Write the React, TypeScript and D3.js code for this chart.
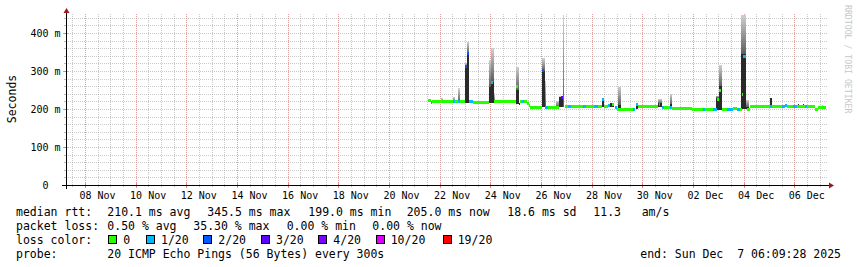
import React from "react";
import * as d3 from "d3";

// ---------- data ----------
const START = "2025-11-07 06:09:28";
const END = "2025-12-07 06:09:28";

const yTickValues = [0, 100, 200, 300, 400];
const yTickLabels = ["0", "100 m", "200 m", "300 m", "400 m"];

const xLabelDates = [
  "11-08", "11-10", "11-12", "11-14", "11-16", "11-18", "11-20", "11-22",
  "11-24", "11-26", "11-28", "11-30", "12-02", "12-04", "12-06",
];
const xTickLabels = [
  "08 Nov", "10 Nov", "12 Nov", "14 Nov", "16 Nov", "18 Nov", "20 Nov", "22 Nov",
  "24 Nov", "26 Nov", "28 Nov", "30 Nov", "02 Dec", "04 Dec", "06 Dec",
];

const lossLabels = ["0", "1/20", "2/20", "3/20", "4/20", "10/20", "19/20"];
const lossColors = ["#26ff00", "#00b8ff", "#0059ff", "#5e00ff", "#7e00ff", "#dd00ff", "#ff0000"];

// median rtt runs: [start, end, ms, loss class index]
const medianRuns: [string, string, number, number][] = [
  ["11-21 13:06", "11-21 16:00", 222.5, 0],
  ["11-21 16:00", "11-21 17:00", 218, 1],
  ["11-21 17:00", "11-22 13:05", 219, 0],
  ["11-22 13:05", "11-22 15:00", 219, 1],
  ["11-22 15:00", "11-22 17:30", 219, 0],
  ["11-22 17:30", "11-22 19:30", 219, 1],
  ["11-22 19:30", "11-23 00:10", 219, 0],
  ["11-23 00:10", "11-23 02:20", 311, 2],
  ["11-23 02:30", "11-23 04:15", 346, 2],
  ["11-23 04:15", "11-23 07:45", 219, 1],
  ["11-23 07:45", "11-23 23:20", 218, 0],
  ["11-24 00:50", "11-24 02:25", 269, 1],
  ["11-24 03:40", "11-25 00:30", 219, 0],
  ["11-25 00:45", "11-25 02:20", 260, 0],
  ["11-25 04:15", "11-25 05:50", 219, 0],
  ["11-25 05:50", "11-25 08:05", 219, 1],
  ["11-25 08:05", "11-25 11:10", 219, 0],
  ["11-25 11:10", "11-25 12:20", 214, 0],
  ["11-25 12:20", "11-25 13:45", 209, 0],
  ["11-25 13:45", "11-26 00:40", 204.5, 0],
  ["11-26 00:50", "11-26 02:35", 302, 2],
  ["11-26 03:55", "11-26 06:50", 204.5, 1],
  ["11-26 06:50", "11-26 17:40", 204.5, 0],
  ["11-26 18:40", "11-26 21:00", 231, 3],
  ["11-26 22:55", "11-27 02:00", 206.5, 0],
  ["11-27 02:00", "11-27 04:35", 206.5, 1],
  ["11-27 04:35", "11-27 16:00", 206.5, 0],
  ["11-27 16:00", "11-27 18:50", 206.5, 1],
  ["11-27 18:50", "11-28 02:40", 206, 0],
  ["11-28 02:40", "11-28 05:55", 206, 1],
  ["11-28 05:55", "11-28 09:40", 206, 0],
  ["11-28 09:40", "11-28 12:10", 225, 1],
  ["11-28 12:10", "11-28 15:20", 206, 0],
  ["11-28 15:20", "11-28 17:30", 208.5, 1],
  ["11-28 19:40", "11-28 21:35", 212, 0],
  ["11-28 22:15", "11-28 23:55", 204, 1],
  ["11-29 00:00", "11-29 15:35", 200, 0],
  ["11-29 15:35", "11-29 17:10", 200, 1],
  ["11-29 18:35", "11-29 20:20", 211, 1],
  ["11-29 20:20", "11-30 15:20", 206, 0],
  ["11-30 15:30", "11-30 17:20", 212, 1],
  ["11-30 18:30", "11-30 20:40", 203.5, 1],
  ["11-30 20:40", "12-01 02:20", 203.5, 0],
  ["12-01 02:20", "12-01 03:50", 203.5, 1],
  ["12-01 04:15", "12-01 23:15", 201.5, 0],
  ["12-01 23:15", "12-02 09:55", 200, 0],
  ["12-02 09:55", "12-02 11:30", 200, 1],
  ["12-02 11:30", "12-02 19:25", 200, 0],
  ["12-02 19:25", "12-02 22:35", 197.5, 1],
  ["12-02 22:35", "12-03 00:45", 224, 0],
  ["12-03 01:05", "12-03 02:15", 250, 0],
  ["12-03 03:20", "12-03 08:05", 200, 0],
  ["12-03 08:05", "12-03 14:00", 198.5, 1],
  ["12-03 14:00", "12-03 17:35", 201.5, 0],
  ["12-03 17:35", "12-03 20:40", 198.5, 1],
  ["12-03 20:40", "12-03 22:20", 200, 0],
  ["12-03 22:20", "12-03 23:30", 237, 0],
  ["12-03 23:30", "12-04 01:55", 339, 1],
  ["12-04 03:00", "12-04 06:10", 199, 0],
  ["12-04 06:10", "12-05 01:05", 206, 0],
  ["12-05 01:05", "12-05 02:45", 206, 1],
  ["12-05 02:45", "12-05 12:10", 206, 0],
  ["12-05 12:10", "12-05 15:20", 206, 1],
  ["12-05 15:20", "12-05 16:55", 210.5, 1],
  ["12-05 16:55", "12-05 23:10", 206, 0],
  ["12-05 23:10", "12-06 02:25", 206, 1],
  ["12-06 02:25", "12-06 10:15", 206, 0],
  ["12-06 10:15", "12-06 12:30", 206, 1],
  ["12-06 12:30", "12-06 19:45", 206, 0],
  ["12-06 19:45", "12-06 22:50", 200, 0],
  ["12-06 22:50", "12-07 06:10", 204.5, 0],
];

// smoke (ping spread): [start, end, low ms, dense top ms, max ms]
const smoke: [string, string, number, number, number][] = [
  ["11-22 01:30", "11-22 03:00", 218, 218, 228],
  ["11-22 13:05", "11-22 15:00", 218, 218, 231],
  ["11-22 17:30", "11-22 19:30", 218, 220, 254],
  ["11-23 00:00", "11-23 02:20", 217, 311, 322],
  ["11-23 02:20", "11-23 04:20", 217, 346, 377],
  ["11-23 23:15", "11-24 00:50", 217, 259, 330],
  ["11-24 00:50", "11-24 03:40", 217, 272, 360],
  ["11-24 03:40", "11-24 05:00", 217, 219, 241],
  ["11-25 00:25", "11-25 03:00", 213, 250, 311],
  ["11-25 03:00", "11-25 04:15", 211, 216, 216],
  ["11-26 00:40", "11-26 03:55", 204, 300, 333],
  ["11-26 03:55", "11-26 05:00", 204, 206, 275],
  ["11-26 14:50", "11-26 16:45", 204, 205, 222],
  ["11-26 17:40", "11-26 21:00", 204, 231, 233],
  ["11-26 21:00", "11-26 22:25", 205, 206, 447],
  ["11-28 09:30", "11-28 12:10", 205, 225, 227],
  ["11-28 17:30", "11-28 21:35", 205, 215, 216],
  ["11-29 00:50", "11-29 04:00", 199, 210, 259],
  ["11-29 18:35", "11-29 20:20", 199, 213, 213],
  ["11-30 15:15", "11-30 18:30", 205, 215, 226],
  ["12-01 02:40", "12-01 04:15", 202, 212, 239],
  ["12-02 22:25", "12-03 01:05", 198, 230, 235],
  ["12-03 01:05", "12-03 03:20", 198, 260, 316],
  ["12-03 22:05", "12-04 02:50", 199, 345, 447],
  ["12-04 02:50", "12-04 04:45", 199, 205, 224],
  ["12-05 01:05", "12-05 02:45", 205, 228, 228],
  ["12-05 15:20", "12-05 16:55", 205, 214, 214],
  ["12-06 03:40", "12-06 04:35", 205, 213, 213],
  ["12-06 07:55", "12-06 08:50", 205, 213, 213],
  ["12-07 01:55", "12-07 02:50", 204, 206, 210],
];

const legendRtt: [string, number][] = [
  ["median rtt:", 16], ["210.1 ms avg", 107.3], ["345.5 ms max", 207.3],
  ["199.0 ms min", 308.3], ["205.0 ms now", 406.7], ["18.6 ms sd", 507.3],
  ["11.3", 593.3], ["am/s", 641.7],
];
const legendLoss: [string, number][] = [
  ["packet loss:", 16], ["0.50 % avg", 107.3], ["35.30 % max", 193.3],
  ["0.00 % min", 286.7], ["0.00 % now", 372.3],
];
const probeText = "20 ICMP Echo Pings (56 Bytes) every 300s";
const endText = "end: Sun Dec\u00a0\u00a07 06:09:28 2025";

// ---------- layout ----------
const W = 857, H = 267;
const X0 = 66, X1 = 826, YB = 185, YT = 14;
const lossBoxX = [108.3, 146, 203.3, 261, 318.3, 375.7, 442.7];

const pFull = d3.utcParse("%Y-%m-%d %H:%M:%S");
const pShort = d3.utcParse("%Y-%m-%d %H:%M");
const T = (s: string) => pShort("2025-" + s)!;
const D = (s: string) => d3.utcParse("%Y-%m-%d")("2025-" + s)!;

const MONO = "'DejaVu Sans Mono', monospace";

export default function App() {
  const x = d3.scaleUtc().domain([pFull(START)!, pFull(END)!]).range([X0, X1]);
  const y = d3.scaleLinear().domain([0, 450]).range([YB, YT]);
  const px = (v: number) => Math.round(v) + 0.5;

  const minorX = d3.utcHour.every(12)!.range(x.domain()[0], x.domain()[1]);
  const majorX = xLabelDates.map(D);
  const minorY = d3.range(0, 450, 20);

  return (
    <svg width={W} height={H} style={{ position: "absolute", left: 0, top: 0, background: "#fff" }}
      fontFamily={MONO}>
      <defs>
        <linearGradient id="smk" x1="0" y1="1" x2="0" y2="0">
          <stop offset="0" stopColor="#5e5e5e" />
          <stop offset="1" stopColor="#cfcfcf" />
        </linearGradient>
        <clipPath id="plot"><rect x={X0} y={YT} width={X1 - X0 + 1} height={YB - YT} /></clipPath>
      </defs>
      <rect width={W} height={H} fill="#fff" />

      {/* minor grid */}
      <g stroke="rgba(150,150,150,0.5)" strokeWidth={1} strokeDasharray="1,1" shapeRendering="crispEdges">
        {minorX.map((d, i) => (
          <line key={"mx" + i} x1={px(x(d))} x2={px(x(d))} y1={YB} y2={YT} />
        ))}
        {minorY.filter(v => v % 100 !== 0).map((v) => (
          <line key={"my" + v} x1={X0} x2={X1 + 2} y1={px(y(v))} y2={px(y(v))} />
        ))}
      </g>
      {/* major grid */}
      <g stroke="rgba(235,120,120,0.55)" strokeWidth={1} strokeDasharray="1,1" shapeRendering="crispEdges">
        {majorX.map((d, i) => (
          <line key={"Mx" + i} x1={px(x(d))} x2={px(x(d))} y1={YB} y2={YT} />
        ))}
        {yTickValues.filter(v => v > 0).map((v) => (
          <line key={"My" + v} x1={X0} x2={X1 + 2} y1={px(y(v))} y2={px(y(v))} />
        ))}
      </g>
      {/* ticks */}
      <g stroke="rgba(140,140,140,0.6)" shapeRendering="crispEdges">
        {minorX.map((d, i) => (
          <line key={"tx" + i} x1={px(x(d))} x2={px(x(d))} y1={YB} y2={YB + 2} />
        ))}
        {minorY.map((v) => (
          <line key={"ty" + v} x1={X0 - 2} x2={X0} y1={px(y(v))} y2={px(y(v))} />
        ))}
      </g>
      <g stroke="rgba(230,100,100,0.7)" shapeRendering="crispEdges">
        {majorX.map((d, i) => (
          <line key={"tX" + i} x1={px(x(d))} x2={px(x(d))} y1={YB - 2} y2={YB + 3} />
        ))}
        {yTickValues.map((v) => (
          <line key={"tY" + v} x1={X0 - 3} x2={X0 + 2} y1={px(y(v))} y2={px(y(v))} />
        ))}
      </g>

      {/* smoke */}
      <g clipPath="url(#plot)" shapeRendering="crispEdges">
        {smoke.map(([s, e, lo, mid, hi], i) => {
          const xa = x(T(s)), xb = x(T(e));
          const w = Math.max(1, xb - xa);
          return (
            <g key={"s" + i}>
              {hi > mid && <rect x={xa} width={w} y={y(hi)} height={y(mid) - y(hi)} fill="url(#smk)" />}
              {mid > lo && <rect x={xa} width={w} y={y(mid)} height={y(lo) - y(mid)} fill="#2a2a2a" />}
            </g>
          );
        })}
      </g>

      {/* median */}
      <g shapeRendering="crispEdges">
        {medianRuns.map(([s, e, v, l], i) => {
          const xa = x(T(s)), xb = x(T(e));
          return <rect key={"m" + i} x={xa} width={Math.max(1, xb - xa)} y={y(v) - 1.5} height={3} fill={lossColors[l]} />;
        })}
      </g>

      {/* axes */}
      <g stroke="#000" strokeWidth={1} shapeRendering="crispEdges">
        <line x1={X0 - 4} x2={X1 + 3} y1={YB + 0.5} y2={YB + 0.5} />
        <line x1={X0 + 0.5} x2={X0 + 0.5} y1={YB + 4} y2={YT - 1} />
      </g>
      <path d={`M${X0 + 0.5},${YT - 6} L${X0 - 2.5},${YT - 1} L${X0 + 3.5},${YT - 1} Z`} fill="#a01818" />
      <path d={`M${X1 + 8},${YB + 0.5} L${X1 + 3},${YB - 2.5} L${X1 + 3},${YB + 3.5} Z`} fill="#a01818" />

      {/* y tick labels */}
      <g fontSize={10} fill="#000" textAnchor="end">
        {yTickValues.map((v, i) => (
          <text key={"yl" + v} x={yTickLabels[i].includes(" ") ? 60.5 : 48.5} y={y(v) + 3.5}>
            {yTickLabels[i]}
          </text>
        ))}
      </g>
      {/* x tick labels */}
      <g fontSize={10} fill="#000" textAnchor="middle">
        {majorX.map((d, i) => (
          <text key={"xl" + i} x={x(d3.utcHour.offset(d, 12))} y={198.5}>{xTickLabels[i]}</text>
        ))}
      </g>

      {/* y title */}
      <text transform="translate(15.5,99) rotate(-90)" textAnchor="middle" fontSize={11.5} fill="#000">Seconds</text>
      {/* watermark */}
      <text transform="translate(845,5) rotate(90)" fontSize={8.2} fill="#c8c8c8">RRDTOOL / TOBI OETIKER</text>

      {/* legend */}
      <g fontSize={11.5} fill="#000">
        {legendRtt.map(([t, xx], i) => <text key={"lr" + i} x={xx} y={215.5}>{t}</text>)}
        {legendLoss.map(([t, xx], i) => <text key={"ll" + i} x={xx} y={229.5}>{t}</text>)}
        <text x={16} y={243.5}>loss color:</text>
        {lossLabels.map((t, i) => (
          <g key={"lc" + i}>
            <rect x={Math.round(lossBoxX[i]) + 0.5} y={235.5} width={8} height={8} fill={lossColors[i]} stroke="#000" strokeWidth={1} shapeRendering="crispEdges" />
            <text x={lossBoxX[i] + 15} y={243.5}>{t}</text>
          </g>
        ))}
        <text x={16} y={257.5}>probe:</text>
        <text x={107.3} y={257.5}>{probeText}</text>
        <text x={841} y={257.5} textAnchor="end">{endText}</text>
      </g>
    </svg>
  );
}
